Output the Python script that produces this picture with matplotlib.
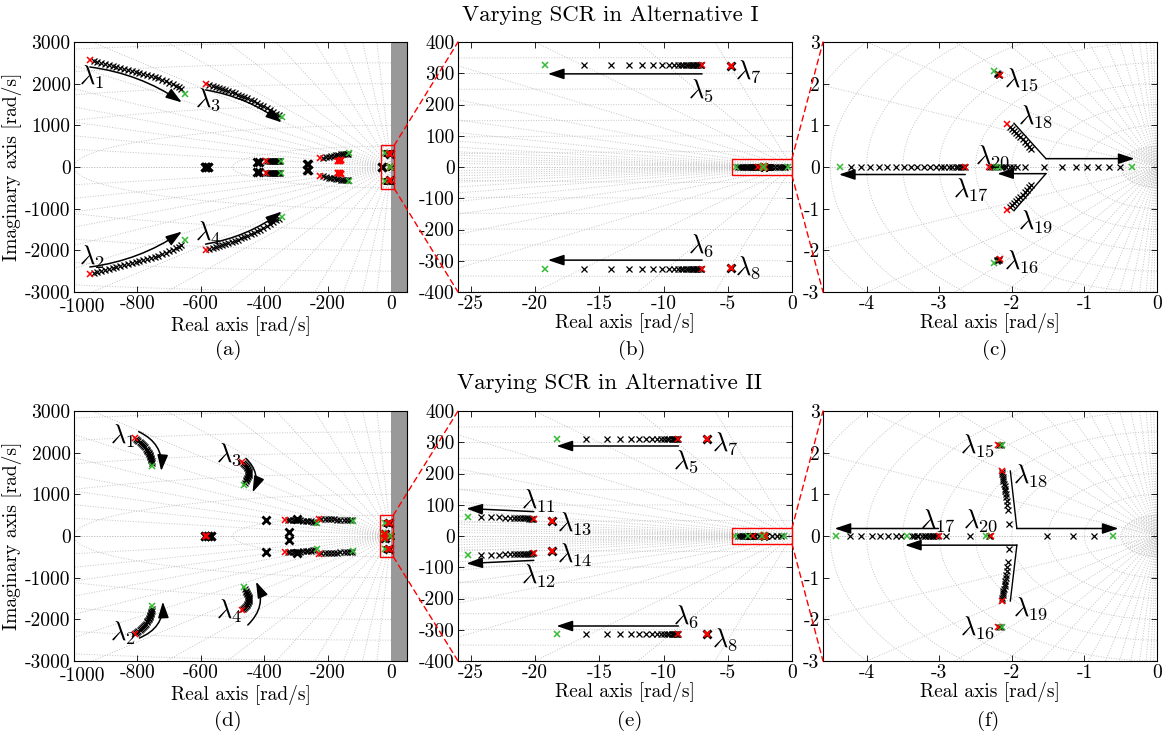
import numpy as np
import matplotlib
matplotlib.use('Agg')
import matplotlib.pyplot as plt
import matplotlib.transforms as mtransforms
from matplotlib.patches import Rectangle, ConnectionPatch

plt.rcParams['font.family'] = 'serif'
plt.rcParams['font.serif'] = ['cmr10', 'DejaVu Serif']
plt.rcParams['mathtext.fontset'] = 'cm'
plt.rcParams['axes.unicode_minus'] = False

RED = '#ff0000'
GREEN = '#33bb33'
GRID = '#c4c4c4'
MS, MEW = 5, 0.9
LF = 19

# ---------------- Alternative I eigenvalue paths (first point red, last green)
a1_l1_re = [-950, -938, -926, -914, -902, -890, -878, -866, -854, -842, -830, -818, -806, -794,
            -782, -770, -758, -746, -734, -722, -710, -699, -689, -679, -670, -662, -650]
a1_l1_im = [2570, 2550, 2530, 2505, 2480, 2455, 2430, 2410, 2385, 2360, 2335, 2310, 2290, 2265,
            2240, 2215, 2185, 2155, 2125, 2095, 2060, 2025, 1990, 1950, 1910, 1870, 1750]
a1_l3_re = [-583, -573, -563, -553, -543, -533, -523, -513, -503, -493, -483, -473, -463, -453,
            -443, -433, -423, -413, -403, -393, -383, -373, -363, -355, -343]
a1_l3_im = [2000, 1975, 1950, 1925, 1900, 1875, 1850, 1825, 1800, 1770, 1740, 1710, 1680, 1645,
            1610, 1575, 1540, 1500, 1460, 1415, 1370, 1325, 1280, 1240, 1195]
a1_m1_re = [-395, -390, -386, -382, -378, -375, -372, -369, -366, -363, -360, -357, -354, -351, -347]
a1_m1_im = [140, 140, 140, 140, 140, 140, 140, 140, 140, 140, 140, 140, 140, 140, 140]
a1_m2_re = [-224, -215, -206, -197, -189, -181, -173, -166, -159, -152, -146, -140, -136, -132]
a1_m2_im = [205, 222, 238, 252, 264, 275, 285, 293, 301, 308, 314, 319, 323, 326]
a1_l5_re = [-7.0, -7.05, -7.1, -7.2, -7.3, -7.4, -7.5, -7.6, -7.7, -7.8, -7.95, -8.1, -8.25, -8.45,
            -8.65, -8.9, -9.2, -9.6, -10.1, -10.8, -11.65, -12.7, -14.1, -16.2, -19.2]
a1_l5_im = [325, 325, 325, 325, 325, 325, 325, 325, 325, 325, 325, 325, 325, 325,
            325, 325, 325, 325, 325, 325, 325, 325, 325, 325, 325]
a1_l15_re = [-2.16, -2.17, -2.18, -2.19, -2.20, -2.21, -2.25]
a1_l15_im = [2.20, 2.21, 2.22, 2.23, 2.24, 2.26, 2.30]
a1_l17_re = [-2.64, -2.65, -2.67, -2.70, -2.74, -2.77, -2.82, -2.87, -2.93, -2.98, -3.05, -3.12,
             -3.21, -3.30, -3.39, -3.49, -3.60, -3.72, -3.83, -3.95, -4.08, -4.22, -4.36]
a1_l17_im = [0, 0, 0, 0, 0, 0, 0, 0, 0, 0, 0, 0, 0, 0, 0, 0, 0, 0, 0, 0, 0, 0, 0]
a1_l18_re = [-2.07, -2.03, -2.00, -1.97, -1.94, -1.91, -1.88, -1.85, -1.82, -1.79, -1.76, -1.74,
             -1.55, -1.31, -1.11, -0.97, -0.81, -0.66, -0.51, -0.35]
a1_l18_im = [1.04, 0.97, 0.92, 0.87, 0.82, 0.77, 0.72, 0.67, 0.61, 0.55, 0.49, 0.43,
             0, 0, 0, 0, 0, 0, 0, 0]
a1_l19_re = [-2.07, -2.03, -2.00, -1.97, -1.94, -1.91, -1.88, -1.85, -1.82, -1.79, -1.76, -1.74,
             -1.82, -1.93, -1.98, -2.03, -2.08, -2.12, -2.15, -2.18]
a1_l19_im = [-1.04, -0.97, -0.92, -0.87, -0.82, -0.77, -0.72, -0.67, -0.61, -0.55, -0.49, -0.43,
             0, 0, 0, 0, 0, 0, 0, 0]
a1_l20_re = [-2.32, -2.30, -2.27, -2.24, -2.22]
a1_l20_im = [0, 0, 0, 0, 0]
# eigenvalues that hardly move
a1_blk_re = [-588, -583, -578, -424, -418, -266, -262, -28, -4.75]
a1_blk_im = [0, 0, 0, 130, 130, 75, 75, 0, 322]
a1_red_re = [-166, -162, -158, -4.75]
a1_red_im = [140, 150, 160, 322]

# ---------------- Alternative II
a2_l1_re = [-809, -805, -801, -797, -793, -789, -786, -783, -780, -777, -774, -771, -769,
            -767, -765, -763, -761, -760, -759, -758, -757, -756, -755, -755, -754]
a2_l1_im = [2344, 2320, 2296, 2272, 2248, 2224, 2200, 2175, 2150, 2125, 2100, 2075, 2050,
            2025, 2000, 1975, 1950, 1925, 1900, 1875, 1850, 1820, 1790, 1750, 1690]
a2_l3_re = [-470, -467, -464, -461, -458, -456, -454, -452, -450, -449, -448, -448, -448,
            -449, -450, -451, -453, -455, -457, -459, -461, -463]
a2_l3_im = [1784, 1760, 1735, 1710, 1685, 1660, 1635, 1610, 1585, 1560, 1535, 1510, 1485,
            1460, 1435, 1410, 1385, 1360, 1335, 1310, 1280, 1224]
a2_m1_re = [-334, -326, -318, -310, -302, -294, -286, -278, -270, -262, -254, -246, -240, -234]
a2_m1_im = [384, 384, 383, 382, 380, 378, 375, 371, 366, 360, 353, 345, 337, 320]
a2_m2_re = [-229, -220, -210, -200, -190, -180, -170, -160, -150, -140, -130, -124, -119]
a2_m2_im = [420, 416, 412, 408, 404, 400, 396, 392, 388, 384, 378, 373, 368]
a2_l5_re = [-8.84, -8.88, -8.93, -8.97, -9.03, -9.10, -9.17, -9.24, -9.36, -9.55, -9.75, -9.96,
            -10.22, -10.53, -10.92, -11.37, -11.89, -12.56, -13.39, -14.43, -16.0, -18.33]
a2_l5_im = [312, 312, 312, 312, 312, 312, 312, 312, 312, 312, 312, 312,
            312, 312, 312, 312, 312, 312, 312, 312, 312, 312]
a2_l11_re = [-20.1, -20.15, -20.23, -20.34, -20.47, -20.59, -20.75, -20.94, -21.14, -21.4,
             -21.66, -21.97, -22.36, -22.8, -23.4, -24.18, -25.2]
a2_l11_im = [55, 55, 55.5, 56, 56, 56.5, 57, 57, 57.5, 58, 58, 58.5, 59, 59.5, 60, 61, 62]
a2_l15_re = [-2.19, -2.17, -2.15, -2.13]
a2_l15_im = [2.18, 2.18, 2.18, 2.18]
a2_l17_re = [-3.0, -3.02, -3.04, -3.07, -3.10, -3.13, -3.16, -3.20, -3.24, -3.29, -3.34,
             -3.52, -3.60, -3.70, -3.81, -3.93, -4.08, -4.23, -4.42]
a2_l17_im = [0, 0, 0, 0, 0, 0, 0, 0, 0, 0, 0, 0, 0, 0, 0, 0, 0, 0, 0]
a2_l18_re = [-2.14, -2.135, -2.13, -2.125, -2.12, -2.115, -2.11, -2.10, -2.095, -2.09, -2.08,
             -2.075, -2.07, -2.06, -2.055, -2.045, -1.52, -1.16, -0.87, -0.61]
a2_l18_im = [1.56, 1.53, 1.48, 1.42, 1.37, 1.32, 1.26, 1.21, 1.14, 1.08, 1.01,
             0.93, 0.84, 0.74, 0.62, 0.30, 0, 0, 0, 0]
a2_l19_re = [-2.14, -2.135, -2.13, -2.125, -2.12, -2.115, -2.11, -2.10, -2.095, -2.09, -2.08,
             -2.075, -2.07, -2.06, -2.055, -2.045, -2.58, -2.90, -3.08, -3.20, -3.30, -3.37, -3.44]
a2_l19_im = [-1.56, -1.53, -1.48, -1.42, -1.37, -1.32, -1.26, -1.21, -1.14, -1.08, -1.01,
             -0.93, -0.84, -0.74, -0.62, -0.30, 0, 0, 0, 0, 0, 0, 0]
a2_l20_re = [-2.28, -2.30, -2.32, -2.35]
a2_l20_im = [0, 0, 0, 0]
a2_blk_re = [-588, -578, -568, -395, -297, -323, -6.63, -18.67]
a2_blk_im = [0, 0, 0, 384, 405, 90, 312, 49]
a2_red_re = [-583, -6.63, -18.67]
a2_red_im = [0, 312, 49]

# (re, im, draw conjugate too)
alt1_paths = [(a1_l1_re, a1_l1_im, True), (a1_l3_re, a1_l3_im, True), (a1_m1_re, a1_m1_im, True),
              (a1_m2_re, a1_m2_im, True), (a1_l5_re, a1_l5_im, True), (a1_l15_re, a1_l15_im, True),
              (a1_l17_re, a1_l17_im, False), (a1_l18_re, a1_l18_im, False),
              (a1_l19_re, a1_l19_im, False), (a1_l20_re, a1_l20_im, False)]
alt2_paths = [(a2_l1_re, a2_l1_im, True), (a2_l3_re, a2_l3_im, True), (a2_m1_re, a2_m1_im, True),
              (a2_m2_re, a2_m2_im, True), (a2_l5_re, a2_l5_im, True), (a2_l11_re, a2_l11_im, True),
              (a2_l15_re, a2_l15_im, True), (a2_l17_re, a2_l17_im, False),
              (a2_l18_re, a2_l18_im, False), (a2_l19_re, a2_l19_im, False),
              (a2_l20_re, a2_l20_im, False)]

# s-plane grid (damping lines and natural frequency circles)
zeta = [0.015, 0.03, 0.05, 0.08, 0.12, 0.17, 0.23, 0.3, 0.38, 0.47, 0.57, 0.68, 0.8, 0.92, 1.0]
wn_big = [500, 1000, 1500, 2000, 2500, 3000, 3500]
wn_mid = [50, 100, 150, 200, 250, 300, 350, 400, 450]
wn_small = [0.04, 0.08, 0.12, 0.16, 0.2, 0.24, 0.28, 0.32, 0.36, 0.4, 0.44, 0.48,
            0.5, 1.0, 1.5, 2.0, 2.5, 3.0, 3.5, 4.0, 4.5, 5.0, 5.5]


def sgrid(ax, wn, rmax):
    th = np.linspace(np.pi / 2, 3 * np.pi / 2, 400)
    for w in wn:
        ax.plot(w * np.cos(th), w * np.sin(th), ls=':', color=GRID, lw=0.7, zorder=1)
    for z in zeta:
        a = np.arccos(z)
        for sgn in (1, -1):
            ax.plot([0, -rmax * np.cos(a)], [0, sgn * rmax * np.sin(a)],
                    ls=':', color=GRID, lw=0.7, zorder=1)


def draw_alt(ax, paths, blk_re, blk_im, red_re, red_im):
    for re, im, conj in paths:
        ims = [im, [-v for v in im]] if conj else [im]
        for yy in ims:
            ax.plot(re[1:-1], yy[1:-1], 'x', color='k', ms=MS, mew=MEW, zorder=3)
            ax.plot(re[:1], yy[:1], 'x', color=RED, ms=MS, mew=MEW + 0.2, zorder=4)
            ax.plot(re[-1:], yy[-1:], 'x', color=GREEN, ms=MS, mew=MEW + 0.2, zorder=4)
    for yy in (blk_im, [-v for v in blk_im]):
        ax.plot(blk_re, yy, 'x', color='k', ms=MS + 0.5, mew=2.0, zorder=3)
    for yy in (red_im, [-v for v in red_im]):
        ax.plot(red_re, yy, 'x', color=RED, ms=MS, mew=1.6, zorder=4)


def arrow(ax, p0, p1, rad=0.0):
    ax.annotate('', xy=p1, xytext=p0,
                arrowprops=dict(arrowstyle='-|>,head_length=0.75,head_width=0.25', color='k',
                                lw=1.1, mutation_scale=13, shrinkA=0, shrinkB=0,
                                connectionstyle='arc3,rad=%g' % rad), zorder=6)


def lam(ax, x, y, n, ha='left'):
    ax.text(x, y, r'$\lambda_{%d}$' % n, fontsize=LF, ha=ha, va='center', zorder=7)


def style(ax, xlim, ylim, xt, yt):
    ax.set_xlim(*xlim)
    ax.set_ylim(*ylim)
    ax.set_xticks(xt)
    ax.set_xticklabels([('%g' % v) for v in xt])
    ax.set_yticks(yt)
    ax.set_yticklabels([('%g' % v) for v in yt])
    ax.tick_params(direction='in', top=True, right=True, length=4, width=0.6,
                   labelsize=14, pad=2.5)
    for s in ax.spines.values():
        s.set_linewidth(0.8)
    ax.set_xlabel('Real axis [rad/s]', fontsize=14, labelpad=0)


fig = plt.figure(figsize=(11.65, 7.37), dpi=100)
W, H = 1165.0, 737.0
lefts = [74, 458, 823]
widths = [333, 334, 334]
tops = [42, 411]
axs = []
for t in tops:
    row = []
    for l, w in zip(lefts, widths):
        row.append(fig.add_axes([l / W, 1 - (t + 250) / H, w / W, 250 / H]))
    axs.append(row)

xt_big = [-1000, -800, -600, -400, -200, 0]
yt_big = [-3000, -2000, -1000, 0, 1000, 2000, 3000]
xt_mid = [-25, -20, -15, -10, -5, 0]
yt_mid = [-400, -300, -200, -100, 0, 100, 200, 300, 400]
xt_small = [-4, -3, -2, -1, 0]
yt_small = [-3, -2, -1, 0, 1, 2, 3]

alts = [(alt1_paths, a1_blk_re, a1_blk_im, a1_red_re, a1_red_im),
        (alt2_paths, a2_blk_re, a2_blk_im, a2_red_re, a2_red_im)]

for r, row in enumerate(axs):
    axA, axB, axC = row
    sgrid(axA, wn_big, 4000)
    sgrid(axB, wn_mid, 500)
    sgrid(axC, wn_small, 6)
    for ax in row:
        draw_alt(ax, *alts[r])
    axA.axvspan(0, 50, color='#999999', zorder=2, lw=0)
    style(axA, (-1000, 50), (-3000, 3000), xt_big, yt_big)
    style(axB, (-26, 0), (-400, 400), xt_mid, yt_mid)
    style(axC, (-4.6, 0), (-3, 3), xt_small, yt_small)
    axA.set_ylabel('Imaginary axis [rad/s]', fontsize=14, labelpad=2)
    # the leftmost x label sits a little right of its tick, clear of the -3000 label
    shift = mtransforms.ScaledTranslation(9 / 100, -3 / 100, fig.dpi_scale_trans)
    lbl = axA.get_xticklabels()[0]
    lbl.set_transform(lbl.get_transform() + shift)

# zoom boxes and connectors
boxes = [((-32, -520), 42, 1040, (-4.7, -27), 4.7, 54),
         ((-35, -500), 42, 1000, (-4.7, -25), 4.7, 50)]
for r, row in enumerate(axs):
    axA, axB, axC = row
    p0, w0, h0, p1, w1, h1 = boxes[r]
    axA.add_patch(Rectangle(p0, w0, h0, fill=False, ec=RED, lw=1.0, zorder=8))
    axB.add_patch(Rectangle(p1, w1, h1, fill=False, ec=RED, lw=1.0, zorder=8, clip_on=False))
    for (xa, ya, src, dst, yb) in [(p0[0] + w0, p0[1] + h0, axA, axB, 1),
                                   (p0[0] + w0, p0[1], axA, axB, 0),
                                   (0, p1[1] + h1, axB, axC, 1),
                                   (0, p1[1], axB, axC, 0)]:
        con = ConnectionPatch(xyA=(xa, ya), coordsA=src.transData, xyB=(0, yb),
                              coordsB=dst.transAxes, color=RED, lw=1.0, ls=(0, (4, 3)))
        fig.add_artist(con)

# ---------- annotations, Alternative I
axA, axB, axC = axs[0]
arrow(axA, (-950, 2400), (-660, 1550), -0.12)
arrow(axA, (-585, 1850), (-345, 1070), -0.12)
arrow(axA, (-950, -2400), (-660, -1550), 0.12)
arrow(axA, (-585, -1850), (-345, -1070), 0.12)
lam(axA, -985, 2150, 1)
lam(axA, -618, 1620, 3)
lam(axA, -985, -2160, 2)
lam(axA, -620, -1590, 4)

arrow(axB, (-7.0, 298), (-19.0, 298))
arrow(axB, (-7.0, -298), (-19.0, -298))
lam(axB, -8.1, 245, 5)
lam(axB, -8.1, -250, 6)
lam(axB, -4.45, 305, 7)
lam(axB, -4.45, -322, 8)

axC.plot([-1.97, -1.53], [1.05, 0.2], color='k', lw=1.0, zorder=6)
arrow(axC, (-1.53, 0.2), (-0.31, 0.2))
axC.plot([-1.97, -1.53], [-1.05, -0.16], color='k', lw=1.0, zorder=6)
arrow(axC, (-1.53, -0.16), (-2.2, -0.16))
arrow(axC, (-2.64, -0.18), (-4.38, -0.18))
lam(axC, -2.11, 2.1, 15)
lam(axC, -1.92, 1.2, 18)
lam(axC, -2.5, 0.26, 20)
lam(axC, -2.81, -0.55, 17)
lam(axC, -1.91, -1.32, 19)
lam(axC, -2.11, -2.27, 16)

# ---------- annotations, Alternative II
axA, axB, axC = axs[1]
arrow(axA, (-796, 2504), (-725, 1560), -0.35)
arrow(axA, (-458, 1864), (-437, 1048), -0.35)
arrow(axA, (-794, -2448), (-720, -1576), 0.35)
arrow(axA, (-452, -2136), (-426, -1096), 0.35)
lam(axA, -886, 2384, 1)
lam(axA, -552, 1944, 3)
lam(axA, -886, -2336, 2)
lam(axA, -552, -1816, 4)

arrow(axB, (-8.84, 288), (-18.33, 288))
arrow(axB, (-8.84, -288), (-18.33, -288))
arrow(axB, (-20.1, 78), (-25.35, 88))
arrow(axB, (-20.1, -78), (-25.35, -88))
lam(axB, -9.24, 238, 5)
lam(axB, -9.24, -258, 6)
lam(axB, -6.24, 297, 7)
lam(axB, -6.24, -333, 8)
lam(axB, -21.1, 110, 11)
lam(axB, -21.1, -130, 12)
lam(axB, -18.33, 40, 13)
lam(axB, -18.33, -61, 14)

axC.plot([-2.02, -1.93], [1.56, 0.18], color='k', lw=1.0, zorder=6)
arrow(axC, (-1.93, 0.18), (-0.53, 0.18))
axC.plot([-2.02, -1.93], [-1.56, -0.22], color='k', lw=1.0, zorder=6)
arrow(axC, (-1.93, -0.22), (-3.47, -0.22))
arrow(axC, (-3.01, 0.18), (-4.44, 0.18))
lam(axC, -2.23, 2.18, 15, ha='right')
lam(axC, -2.23, -2.19, 16, ha='right')
lam(axC, -1.98, 1.46, 18)
lam(axC, -1.98, -1.74, 19)
lam(axC, -3.27, 0.38, 17)
lam(axC, -2.67, 0.38, 20)

# titles and panel tags
fig.text(610 / W, 1 - 15 / H, 'Varying SCR in Alternative I', fontsize=16.5, ha='center', va='center')
fig.text(610 / W, 1 - 383 / H, 'Varying SCR in Alternative II', fontsize=16.5, ha='center', va='center')
tags = ['(a)', '(b)', '(c)', '(d)', '(e)', '(f)']
tag_x = [228, 632, 995, 228, 630, 988]
tag_y = [350, 350, 350, 721, 721, 721]
for t, x, y in zip(tags, tag_x, tag_y):
    fig.text(x / W, 1 - y / H, t, fontsize=15, ha='center', va='center')

fig.savefig('out.png', dpi=100)
